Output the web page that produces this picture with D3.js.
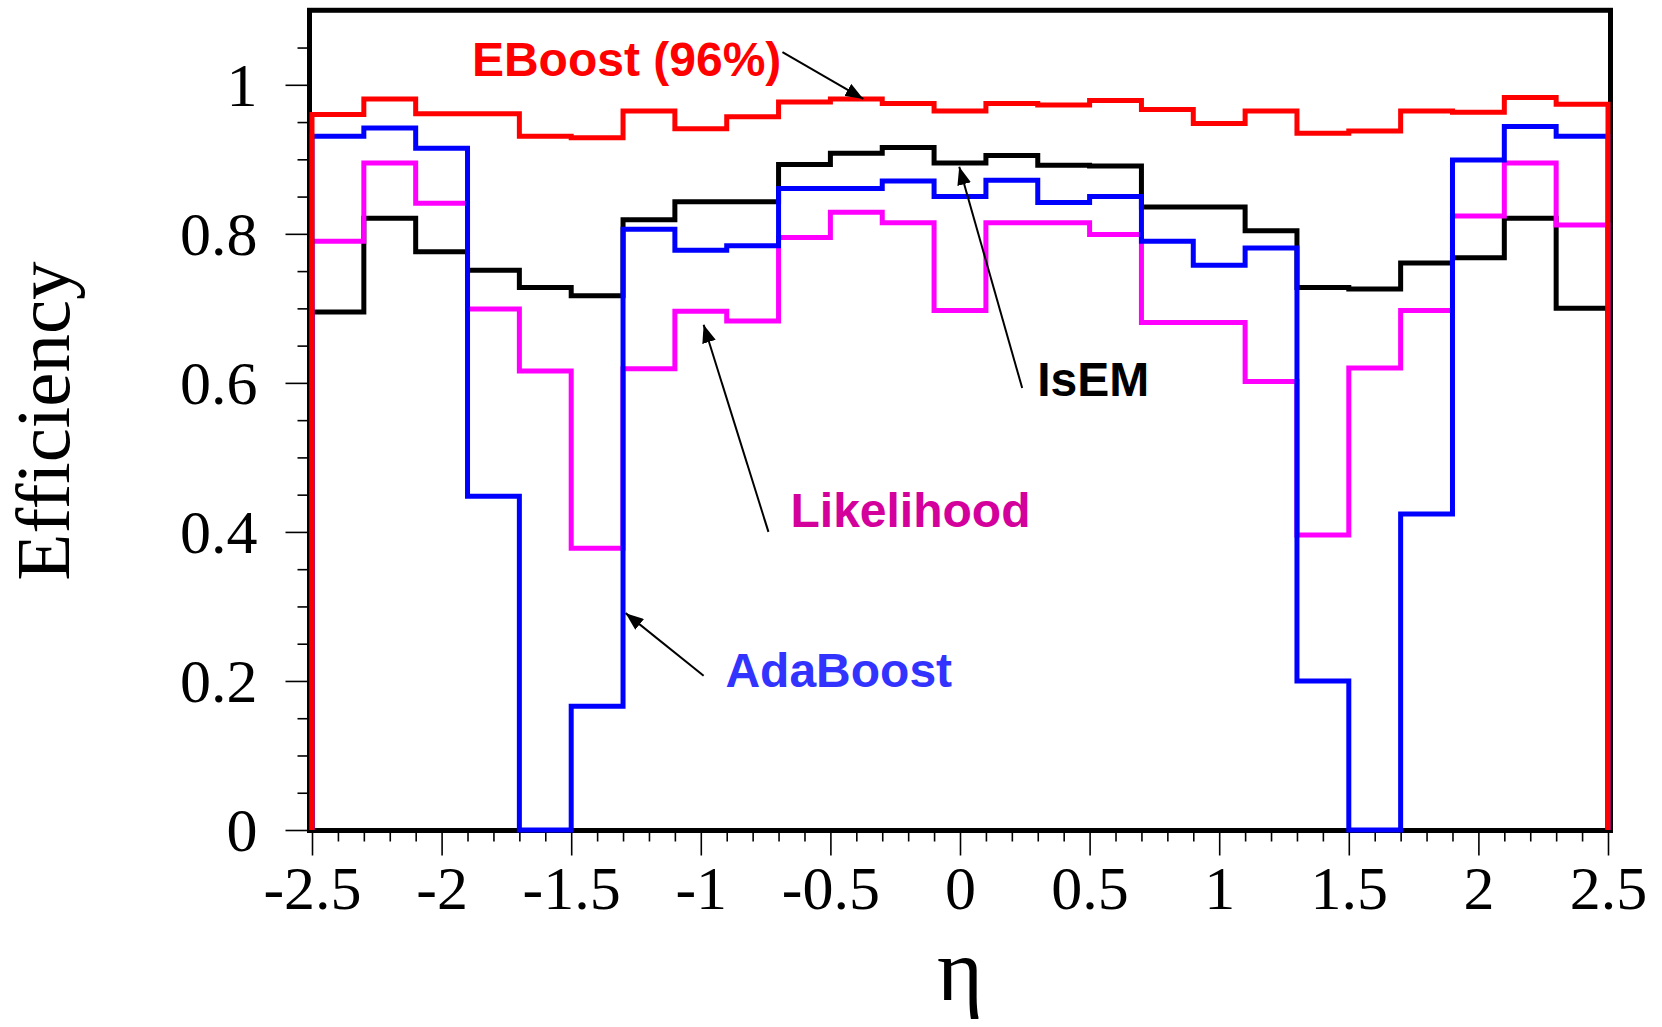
<!DOCTYPE html>
<html>
<head>
<meta charset="utf-8">
<script src="https://cdn.jsdelivr.net/npm/d3@7"></script>
<style>
  html, body { margin: 0; padding: 0; background: #fff; }
  svg { display: block; }
</style>
</head>
<body>
<div id="chart"></div>
<script>
// bin edges in eta (25 bins of 0.2)
const etaEdges = [-2.5, -2.3, -2.1, -1.9, -1.7, -1.5, -1.3, -1.1, -0.9, -0.7, -0.5, -0.3, -0.1,
                  0.1, 0.3, 0.5, 0.7, 0.9, 1.1, 1.3, 1.5, 1.7, 1.9, 2.1, 2.3, 2.5];

// efficiency per bin
const isem = [0.695, 0.821, 0.776, 0.751, 0.728, 0.717, 0.819, 0.843, 0.843, 0.893, 0.908, 0.916, 0.895,
              0.905, 0.892, 0.891, 0.836, 0.836, 0.804, 0.728, 0.726, 0.761, 0.768, 0.821, 0.700];
const likelihood = [0.790, 0.895, 0.841, 0.699, 0.616, 0.378, 0.619, 0.696, 0.683, 0.795, 0.829, 0.815, 0.697,
                    0.815, 0.815, 0.799, 0.681, 0.681, 0.602, 0.396, 0.620, 0.697, 0.824, 0.895, 0.812];
const adaboost = [0.931, 0.942, 0.915, 0.448, 0.000, 0.166, 0.806, 0.778, 0.784, 0.861, 0.861, 0.871, 0.850,
                  0.872, 0.842, 0.850, 0.790, 0.758, 0.781, 0.200, 0.000, 0.424, 0.899, 0.944, 0.931];
const eboost = [0.960, 0.981, 0.961, 0.961, 0.931, 0.929, 0.965, 0.941, 0.957, 0.977, 0.981, 0.975, 0.965,
                0.975, 0.973, 0.979, 0.967, 0.948, 0.965, 0.935, 0.938, 0.965, 0.963, 0.983, 0.974];

const xMajor = [-2.5, -2, -1.5, -1, -0.5, 0, 0.5, 1, 1.5, 2, 2.5];
const yMajor = [0, 0.2, 0.4, 0.6, 0.8, 1];

const w = 1662;
const h = 1027;

const xScale = d3.scaleLinear()
  .domain([-2.5, 2.5])
  .range([312, 1608]);

const yScale = d3.scaleLinear()
  .domain([0, 1])
  .range([830, 84.8]);

const svg = d3.select("#chart")
              .append("svg")
              .attr("width", w)
              .attr("height", h);

// arrow head
svg.append("defs")
   .append("marker")
   .attr("id", "head")
   .attr("markerUnits", "userSpaceOnUse")
   .attr("viewBox", "0 0 18 14")
   .attr("refX", 18)
   .attr("refY", 7)
   .attr("markerWidth", 18)
   .attr("markerHeight", 14)
   .attr("orient", "auto")
   .append("path")
   .attr("d", "M0,0 L18,7 L0,14 Z")
   .attr("fill", "black");

// minor ticks
const xMinor = d3.range(-25, 26).map(i => i / 10).filter(v => Math.abs(v * 2 - Math.round(v * 2)) > 1e-6);
const yMinor = d3.range(0, 22).map(i => i * 0.05).filter(v => Math.abs(v * 5 - Math.round(v * 5)) > 1e-6);

// frame
const fx0 = xScale(-2.5) - 2.5, fx1 = xScale(2.5) + 2.5;
const fy0 = yScale(1.1), fy1 = yScale(0) + 0.5;

svg.append("g")
   .attr("transform", "translate(0," + fy1 + ")")
   .call(d3.axisBottom(xScale).tickValues(xMinor).tickSize(11).tickFormat(""))
   .call(g => g.select(".domain").remove())
   .call(g => g.selectAll("line").attr("stroke-width", 1.6));

svg.append("g")
   .attr("transform", "translate(0," + fy1 + ")")
   .call(d3.axisBottom(xScale).tickValues(xMajor).tickSize(25).tickPadding(9).tickFormat(d => String(d)))
   .call(g => g.select(".domain").remove())
   .call(g => g.selectAll("line").attr("stroke-width", 1.6))
   .call(g => g.selectAll("text")
     .attr("font-family", "'Liberation Serif', 'Times New Roman', serif")
     .attr("font-size", 62)
     .attr("fill", "black"));

svg.append("g")
   .attr("transform", "translate(" + fx0 + ",0)")
   .call(d3.axisLeft(yScale).tickValues(yMinor).tickSize(12).tickFormat(""))
   .call(g => g.select(".domain").remove())
   .call(g => g.selectAll("line").attr("stroke-width", 1.6));

svg.append("g")
   .attr("transform", "translate(" + fx0 + ",0)")
   .call(d3.axisLeft(yScale).tickValues(yMajor).tickSize(24).tickPadding(28).tickFormat(d => String(d)))
   .call(g => g.select(".domain").remove())
   .call(g => g.selectAll("line").attr("stroke-width", 1.6))
   .call(g => g.selectAll("text")
     .attr("font-family", "'Liberation Serif', 'Times New Roman', serif")
     .attr("font-size", 62)
     .attr("dy", "0.33em")
     .attr("fill", "black"));

svg.append("rect")
   .attr("x", fx0)
   .attr("y", fy0)
   .attr("width", fx1 - fx0)
   .attr("height", fy1 - fy0)
   .attr("fill", "none")
   .attr("stroke", "black")
   .attr("stroke-width", 5);

// histograms
function histPoints(vals) {
  const pts = [[etaEdges[0], 0]];
  vals.forEach((v, i) => {
    pts.push([etaEdges[i], v]);
    pts.push([etaEdges[i + 1], v]);
  });
  pts.push([etaEdges[etaEdges.length - 1], 0]);
  return pts;
}

const histLine = d3.line()
  .x(d => xScale(d[0]))
  .y(d => yScale(d[1]));

const series = [
  { vals: isem, color: "black" },
  { vals: likelihood, color: "#ff00ff" },
  { vals: adaboost, color: "#0000ff" },
  { vals: eboost, color: "#ff0000" }
];

series.forEach(s => {
  svg.append("path")
     .datum(histPoints(s.vals))
     .attr("fill", "none")
     .attr("stroke", s.color)
     .attr("stroke-width", 5)
     .attr("stroke-linejoin", "miter")
     .attr("d", histLine);
});

// annotations (positions in data coords)
function note(x, y, text, color, ax0, ay0, ax1, ay1) {
  svg.append("text")
     .attr("x", xScale(x))
     .attr("y", yScale(y))
     .attr("font-family", "'Liberation Sans', Arial, sans-serif")
     .attr("font-weight", "bold")
     .attr("font-size", 48)
     .attr("fill", color)
     .text(text);

  svg.append("line")
     .attr("x1", xScale(ax0))
     .attr("y1", yScale(ay0))
     .attr("x2", xScale(ax1))
     .attr("y2", yScale(ay1))
     .attr("stroke", "black")
     .attr("stroke-width", 2)
     .attr("marker-end", "url(#head)");
}

note(-1.883, 1.012, "EBoost (96%)", "#ff0000", -0.685, 1.044, -0.373, 0.981);
note(0.298, 0.582, "IsEM", "black", 0.240, 0.593, -0.003, 0.890);
note(-0.654, 0.407, "Likelihood", "#d4009c", -0.739, 0.400, -0.989, 0.678);
note(-0.905, 0.192, "AdaBoost", "#3333ff", -0.989, 0.207, -1.290, 0.291);

// axis titles
svg.append("text")
   .attr("transform", "translate(69,421) rotate(-90)")
   .attr("text-anchor", "middle")
   .attr("font-family", "'Liberation Serif', 'Times New Roman', serif")
   .attr("font-size", 77)
   .text("Efficiency");

svg.append("text")
   .attr("x", (xScale(-2.5) + xScale(2.5)) / 2)
   .attr("y", 1000)
   .attr("text-anchor", "middle")
   .attr("font-family", "'Liberation Serif', 'Times New Roman', serif")
   .attr("font-size", 88)
   .text("η");
</script>
</body>
</html>
